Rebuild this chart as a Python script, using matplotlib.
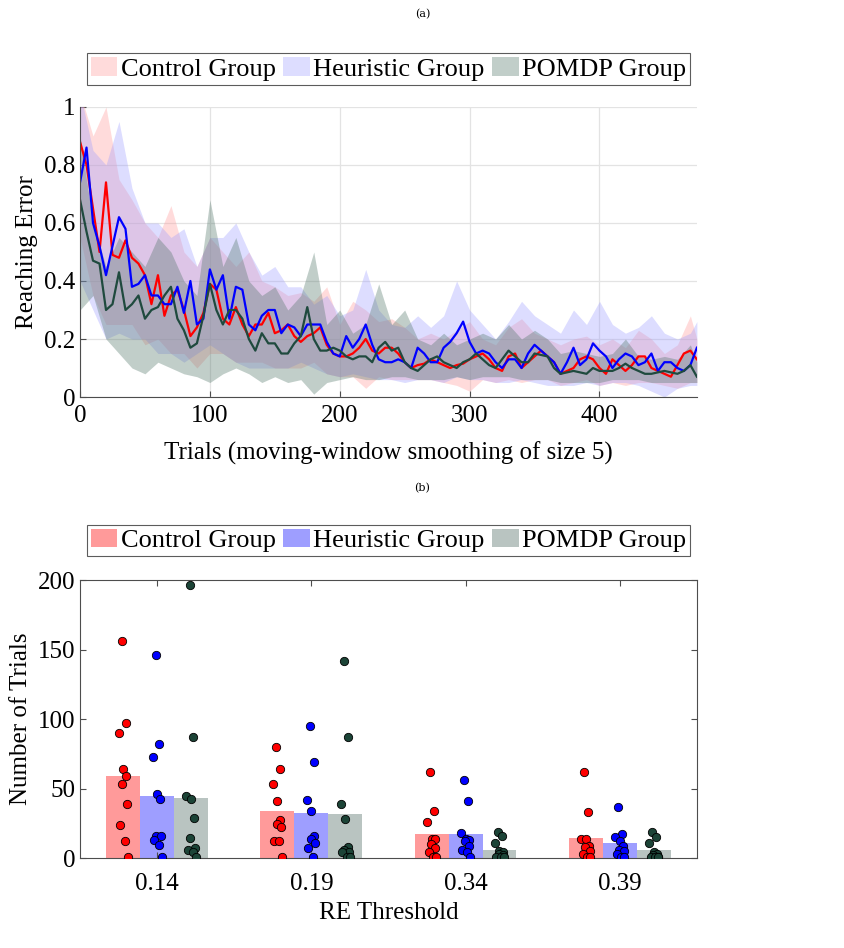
import matplotlib
matplotlib.use('Agg')
import matplotlib.pyplot as plt
import numpy as np

plt.rcParams['font.family'] = ['Liberation Serif', 'DejaVu Serif']

groups = ["Control Group", "Heuristic Group", "POMDP Group"]

# ---- panel (a): smoothed reaching error, sampled every 5 trials
trials = list(range(0, 476, 5))
control_re = [0.88, 0.80, 0.65, 0.50, 0.74, 0.49, 0.48, 0.54, 0.48, 0.46,
              0.42, 0.32, 0.42, 0.28, 0.35, 0.37, 0.30, 0.21, 0.24, 0.29,
              0.39, 0.37, 0.27, 0.25, 0.31, 0.25, 0.21, 0.25, 0.25, 0.29,
              0.22, 0.23, 0.25, 0.21, 0.19, 0.21, 0.22, 0.24, 0.18, 0.15,
              0.14, 0.14, 0.15, 0.17, 0.20, 0.16, 0.15, 0.17, 0.17, 0.15,
              0.12, 0.10, 0.11, 0.115, 0.13, 0.12, 0.11, 0.10, 0.11, 0.115,
              0.13, 0.14, 0.15, 0.13, 0.10, 0.09, 0.14, 0.15, 0.10, 0.12,
              0.14, 0.16, 0.14, 0.12, 0.08, 0.09, 0.10, 0.13, 0.14, 0.13,
              0.10, 0.08, 0.13, 0.11, 0.09, 0.11, 0.14, 0.14, 0.10, 0.09,
              0.08, 0.07, 0.11, 0.15, 0.16, 0.13]
heuristic_re = [0.74, 0.86, 0.60, 0.52, 0.42, 0.52, 0.62, 0.58, 0.38, 0.39,
                0.42, 0.35, 0.35, 0.32, 0.32, 0.38, 0.29, 0.40, 0.25, 0.27,
                0.44, 0.37, 0.42, 0.27, 0.38, 0.37, 0.25, 0.23, 0.28, 0.30,
                0.30, 0.22, 0.25, 0.24, 0.21, 0.25, 0.25, 0.25, 0.19, 0.15,
                0.14, 0.21, 0.17, 0.20, 0.25, 0.18, 0.13, 0.12, 0.12, 0.13,
                0.12, 0.10, 0.17, 0.15, 0.12, 0.12, 0.17, 0.19, 0.22, 0.26,
                0.19, 0.15, 0.16, 0.15, 0.12, 0.10, 0.13, 0.13, 0.10, 0.15,
                0.18, 0.16, 0.14, 0.12, 0.08, 0.12, 0.17, 0.11, 0.13, 0.185,
                0.16, 0.14, 0.10, 0.13, 0.15, 0.14, 0.11, 0.12, 0.15, 0.09,
                0.12, 0.12, 0.10, 0.09, 0.11, 0.17]
pomdp_re = [0.68, 0.57, 0.47, 0.46, 0.30, 0.32, 0.43, 0.30, 0.32, 0.35,
            0.27, 0.30, 0.31, 0.35, 0.38, 0.27, 0.23, 0.17, 0.185, 0.28,
            0.39, 0.30, 0.25, 0.30, 0.30, 0.27, 0.20, 0.16, 0.22, 0.185,
            0.185, 0.15, 0.15, 0.185, 0.21, 0.31, 0.20, 0.16, 0.16, 0.17,
            0.16, 0.14, 0.13, 0.14, 0.14, 0.12, 0.17, 0.19, 0.16, 0.17,
            0.12, 0.10, 0.09, 0.11, 0.13, 0.14, 0.12, 0.11, 0.10, 0.12,
            0.13, 0.15, 0.13, 0.11, 0.10, 0.13, 0.16, 0.14, 0.12, 0.12,
            0.15, 0.145, 0.14, 0.10, 0.08, 0.085, 0.09, 0.085, 0.08, 0.10,
            0.09, 0.09, 0.09, 0.10, 0.115, 0.10, 0.09, 0.08, 0.08, 0.085,
            0.09, 0.085, 0.08, 0.09, 0.11, 0.07]

# shaded spread, sampled every 10 trials
band_trials = list(range(0, 471, 10)) + [475]
control_hi = [1.05, 0.90, 1.00, 0.75, 0.68, 0.60, 0.55, 0.66, 0.50, 0.45,
              0.55, 0.50, 0.45, 0.50, 0.40, 0.38, 0.35, 0.36, 0.33, 0.38,
              0.25, 0.33, 0.30, 0.26, 0.27, 0.24, 0.20, 0.22, 0.20, 0.23,
              0.26, 0.20, 0.18, 0.24, 0.27, 0.22, 0.20, 0.18, 0.20, 0.21,
              0.18, 0.20, 0.17, 0.23, 0.20, 0.15, 0.18, 0.28, 0.20]
control_lo = [0.55, 0.35, 0.25, 0.25, 0.25, 0.18, 0.20, 0.15, 0.15, 0.10,
              0.15, 0.15, 0.12, 0.12, 0.12, 0.10, 0.10, 0.10, 0.12, 0.08,
              0.07, 0.07, 0.03, 0.07, 0.06, 0.06, 0.06, 0.06, 0.05, 0.04,
              0.02, 0.06, 0.05, 0.06, 0.05, 0.06, 0.06, 0.04, 0.05, 0.06,
              0.04, 0.05, 0.04, 0.05, 0.05, 0.04, 0.03, 0.05, 0.05]
heuristic_hi = [1.05, 0.85, 0.80, 0.95, 0.72, 0.60, 0.60, 0.55, 0.58, 0.45,
                0.55, 0.55, 0.60, 0.50, 0.42, 0.45, 0.38, 0.38, 0.32, 0.35,
                0.28, 0.30, 0.44, 0.30, 0.25, 0.24, 0.28, 0.24, 0.28, 0.40,
                0.30, 0.25, 0.20, 0.26, 0.33, 0.28, 0.25, 0.22, 0.30, 0.25,
                0.33, 0.25, 0.22, 0.24, 0.28, 0.22, 0.20, 0.22, 0.26]
heuristic_lo = [0.40, 0.30, 0.20, 0.22, 0.20, 0.20, 0.15, 0.15, 0.12, 0.15,
                0.18, 0.15, 0.12, 0.10, 0.10, 0.10, 0.10, 0.12, 0.10, 0.08,
                0.07, 0.08, 0.07, 0.06, 0.06, 0.05, 0.06, 0.06, 0.05, 0.07,
                0.06, 0.06, 0.05, 0.05, 0.06, 0.05, 0.04, 0.04, 0.04, 0.05,
                0.04, 0.05, 0.05, 0.04, 0.02, 0.00, 0.03, 0.04, 0.04]
pomdp_hi = [0.90, 0.60, 0.45, 0.55, 0.50, 0.45, 0.55, 0.50, 0.40, 0.35,
            0.68, 0.45, 0.55, 0.40, 0.35, 0.38, 0.30, 0.35, 0.50, 0.25,
            0.30, 0.22, 0.25, 0.39, 0.25, 0.30, 0.20, 0.18, 0.22, 0.18,
            0.20, 0.22, 0.20, 0.25, 0.20, 0.23, 0.20, 0.15, 0.16, 0.15,
            0.14, 0.15, 0.20, 0.14, 0.13, 0.14, 0.13, 0.18, 0.12]
pomdp_lo = [0.30, 0.35, 0.20, 0.15, 0.10, 0.08, 0.12, 0.10, 0.08, 0.07,
            0.05, 0.08, 0.10, 0.08, 0.05, 0.07, 0.05, 0.06, 0.01, 0.05,
            0.06, 0.07, 0.06, 0.06, 0.07, 0.07, 0.06, 0.06, 0.06, 0.07,
            0.06, 0.07, 0.07, 0.07, 0.06, 0.06, 0.06, 0.05, 0.05, 0.05,
            0.05, 0.06, 0.06, 0.06, 0.05, 0.05, 0.05, 0.05, 0.05]

# ---- panel (b): trials needed to reach each RE threshold
thresholds = ["0.14", "0.19", "0.34", "0.39"]
control_mean = [59, 33.6, 17.5, 14.5]
heuristic_mean = [44.5, 32.7, 17.5, 10.6]
pomdp_mean = [43, 32, 6, 5.5]
control_pts = [[156, 97, 90, 64, 59, 53, 39, 24, 12.5, 0.5],
               [80, 64, 53, 41, 27.6, 24.5, 22.3, 12.5, 12.5, 0.5],
               [62, 34, 26, 14, 14, 10, 7, 4, 1, 1],
               [62, 33, 14, 14, 9, 8, 5, 3, 1, 1]]
heuristic_pts = [[146, 82, 73, 46, 42.5, 15.8, 15.8, 13, 9.4, 0.5],
                 [95, 69, 41.5, 34, 15.8, 13.7, 10.6, 7.5, 0.5],
                 [56, 41, 18, 14, 13, 12, 9, 6, 4, 1],
                 [37, 17, 15, 12, 9, 6, 5, 3, 1, 1]]
pomdp_pts = [[196.6, 87, 44.6, 42.7, 28.8, 14.4, 7.5, 6, 4.3, 0.5],
             [142, 87, 39, 28, 8, 6, 4, 4, 1, 0.5],
             [19, 16, 11, 5, 4, 3, 2, 1, 1, 1],
             [19, 15, 11, 4, 3, 2, 1, 1, 1, 1]]

line_cols = ['#ff0000', '#0000ff', '#1f4a3e']
band_cols = ['#ff9a9a', '#9e9eff', '#4f7466']
bar_cols = ['#ff9a9a', '#9e9eff', '#b9c4c1']
dot_cols = ['#ff0000', '#0000ff', '#1c4437']
jitter = [-0.01, 0.015, -0.03, 0.0, 0.02, -0.005, 0.025, -0.02, 0.01, 0.03]

fig = plt.figure(figsize=(8.45, 9.48), dpi=100)
fig.text(0.5, 0.985, "(a)", ha='center', va='center', fontsize=8, family='DejaVu Serif')
fig.text(0.5, 0.485, "(b)", ha='center', va='center', fontsize=8, family='DejaVu Serif')

leg_kw = dict(loc='lower center', ncol=3, fontsize=19, frameon=True, fancybox=False,
              handlelength=1.0, handleheight=0.7, handletextpad=0.12,
              columnspacing=0.3, borderpad=0.15, borderaxespad=0)

# ---------------- (a)
ax1 = fig.add_axes([0.0947, 0.5812, 0.730, 0.306])
series = [(control_re, control_lo, control_hi),
          (heuristic_re, heuristic_lo, heuristic_hi),
          (pomdp_re, pomdp_lo, pomdp_hi)]
band_handles = []
for i, (m, lo, hi) in enumerate(series):
    h = ax1.fill_between(band_trials, lo, hi, color=band_cols[i], alpha=0.35,
                         linewidth=0, label=groups[i])
    band_handles.append(h)
for i, (m, lo, hi) in enumerate(series):
    ax1.plot(trials, m, color=line_cols[i], linewidth=1.6)

ax1.set_xlim(0, 475)
ax1.set_ylim(0, 1)
ax1.set_xticks([0, 100, 200, 300, 400])
ax1.set_yticks([0, 0.2, 0.4, 0.6, 0.8, 1])
ax1.set_yticklabels(['0', '0.2', '0.4', '0.6', '0.8', '1'])
ax1.grid(True, color='#e3e3e3', linewidth=0.9)
ax1.set_axisbelow(True)
ax1.spines['top'].set_visible(False)
ax1.spines['right'].set_visible(False)
for s in ['left', 'bottom']:
    ax1.spines[s].set_color('#4d4d4d')
ax1.tick_params(direction='in', labelsize=18, length=4, color='#4d4d4d')
ax1.tick_params(axis='x', pad=6)
ax1.set_xlabel("Trials (moving-window smoothing of size 5)", fontsize=18, labelpad=10)
ax1.set_ylabel("Reaching Error", fontsize=18, labelpad=4)
leg1 = ax1.legend(handles=band_handles, bbox_to_anchor=(0.5, 1.076), **leg_kw)
leg1.get_frame().set_edgecolor('#333333')
leg1.get_frame().set_linewidth(0.8)

# ---------------- (b)
ax2 = fig.add_axes([0.0947, 0.0949, 0.730, 0.2932])
xpos = np.arange(1, len(thresholds) + 1)
offs = [-0.22, 0.0, 0.22]
means = [control_mean, heuristic_mean, pomdp_mean]
pts = [control_pts, heuristic_pts, pomdp_pts]
for g in range(3):
    ax2.bar(xpos + offs[g], means[g], width=0.22, color=bar_cols[g], label=groups[g],
            edgecolor='none', zorder=1)
for g in range(3):
    for k in range(len(thresholds)):
        vals = pts[g][k]
        xs = [xpos[k] + offs[g] + jitter[j % len(jitter)] for j in range(len(vals))]
        ax2.scatter(xs, vals, s=36, color=dot_cols[g], edgecolors='black',
                    linewidths=0.6, zorder=3)
ax2.set_xlim(0.5, 4.5)
ax2.set_ylim(0, 200)
ax2.set_xticks(xpos)
ax2.set_xticklabels(thresholds)
ax2.set_yticks([0, 50, 100, 150, 200])
for s in ax2.spines.values():
    s.set_color('#4d4d4d')
ax2.tick_params(direction='in', labelsize=18, length=4, color='#4d4d4d',
                top=True, right=True)
ax2.tick_params(axis='x', pad=11)
ax2.set_xlabel("RE Threshold", fontsize=18, labelpad=5)
ax2.set_ylabel("Number of Trials", fontsize=18, labelpad=4)
leg2 = ax2.legend(bbox_to_anchor=(0.5, 1.086), **leg_kw)
leg2.get_frame().set_edgecolor('#333333')
leg2.get_frame().set_linewidth(0.8)

fig.savefig("out.png", dpi=100)
